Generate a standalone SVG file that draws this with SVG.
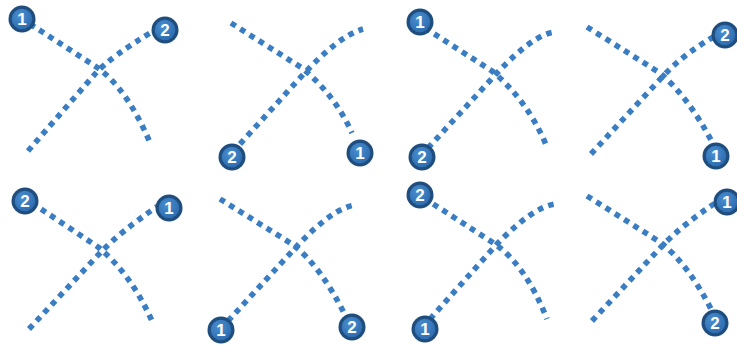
<svg xmlns="http://www.w3.org/2000/svg" width="737" height="346" viewBox="0 0 737 346">
<defs>
<radialGradient id="bg" cx="0.4" cy="0.35" r="0.7">
<stop offset="0" stop-color="#4A8FD0"/>
<stop offset="1" stop-color="#2B6AAE"/>
</radialGradient>
<style>
.ln{fill:none;stroke:#3A7DC2;stroke-width:5.6;stroke-dasharray:5.6 5.4;stroke-linecap:butt}
.ring{fill:#1F4E7E}
.inner{fill:url(#bg)}
.num{font-family:"Liberation Sans",Arial,sans-serif;font-weight:bold;font-size:17px;fill:#ffffff;text-anchor:middle}
</style>
</defs>
<rect width="737" height="346" fill="#ffffff"/>
<g id="connectors">
<path class="ln" d="M30 24 L98 68 Q128 90 151 145"/>
<path class="ln" d="M28 151 L95 74 Q110 57 155 30"/>
<path class="ln" d="M231 23 L302 68 Q335 95 352 133"/>
<path class="ln" d="M240 144 L299 79 Q338 36 363 29"/>
<path class="ln" d="M425 28 L492 71 Q528 101 547 147"/>
<path class="ln" d="M428 148 L497 73 Q534 34 555 32"/>
<path class="ln" d="M587 27 L660 73 Q688 97 711 140"/>
<path class="ln" d="M591 154 L665 74 Q685 53 720 33"/>
<path class="ln" d="M32 203 L98 247 Q131 274 152 321"/>
<path class="ln" d="M29 329 L100 253 Q120 232 158 206"/>
<path class="ln" d="M220 199 L292 244 Q321 266 346 317"/>
<path class="ln" d="M228 321 L297 246 Q333 208 355 205"/>
<path class="ln" d="M424 198 L495 244 Q526 266 547 319"/>
<path class="ln" d="M430 319 L497 244 Q533 207 555 204"/>
<path class="ln" d="M587 196 L660 242 Q689 265 712 311"/>
<path class="ln" d="M592 321 L662 246 Q683 224 720 200"/>
</g>
<g id="p1-b1"><circle class="ring" cx="22" cy="19" r="13.5"/><circle class="inner" cx="22" cy="19" r="10.3"/><text class="num" x="22" y="25">1</text></g>
<g id="p1-b2"><circle class="ring" cx="165" cy="30" r="13.5"/><circle class="inner" cx="165" cy="30" r="10.3"/><text class="num" x="165" y="36">2</text></g>
<g id="p2-b2"><circle class="ring" cx="232" cy="157" r="13.5"/><circle class="inner" cx="232" cy="157" r="10.3"/><text class="num" x="232" y="163">2</text></g>
<g id="p2-b1"><circle class="ring" cx="360" cy="153" r="13.5"/><circle class="inner" cx="360" cy="153" r="10.3"/><text class="num" x="360" y="159">1</text></g>
<g id="p3-b1"><circle class="ring" cx="420" cy="22" r="13.5"/><circle class="inner" cx="420" cy="22" r="10.3"/><text class="num" x="420" y="28">1</text></g>
<g id="p3-b2"><circle class="ring" cx="422" cy="157" r="13.5"/><circle class="inner" cx="422" cy="157" r="10.3"/><text class="num" x="422" y="163">2</text></g>
<g id="p4-b2"><circle class="ring" cx="725" cy="35" r="13.5"/><circle class="inner" cx="725" cy="35" r="10.3"/><text class="num" x="725" y="41">2</text></g>
<g id="p4-b1"><circle class="ring" cx="716" cy="156" r="13.5"/><circle class="inner" cx="716" cy="156" r="10.3"/><text class="num" x="716" y="162">1</text></g>
<g id="p5-b2"><circle class="ring" cx="25" cy="201" r="13.5"/><circle class="inner" cx="25" cy="201" r="10.3"/><text class="num" x="25" y="207">2</text></g>
<g id="p5-b1"><circle class="ring" cx="169" cy="208" r="13.5"/><circle class="inner" cx="169" cy="208" r="10.3"/><text class="num" x="169" y="214">1</text></g>
<g id="p6-b1"><circle class="ring" cx="221" cy="330" r="13.5"/><circle class="inner" cx="221" cy="330" r="10.3"/><text class="num" x="221" y="336">1</text></g>
<g id="p6-b2"><circle class="ring" cx="352" cy="327" r="13.5"/><circle class="inner" cx="352" cy="327" r="10.3"/><text class="num" x="352" y="333">2</text></g>
<g id="p7-b2"><circle class="ring" cx="420" cy="195" r="13.5"/><circle class="inner" cx="420" cy="195" r="10.3"/><text class="num" x="420" y="201">2</text></g>
<g id="p7-b1"><circle class="ring" cx="425" cy="329" r="13.5"/><circle class="inner" cx="425" cy="329" r="10.3"/><text class="num" x="425" y="335">1</text></g>
<g id="p8-b1"><circle class="ring" cx="727" cy="202" r="13.5"/><circle class="inner" cx="727" cy="202" r="10.3"/><text class="num" x="727" y="208">1</text></g>
<g id="p8-b2"><circle class="ring" cx="715" cy="323" r="13.5"/><circle class="inner" cx="715" cy="323" r="10.3"/><text class="num" x="715" y="329">2</text></g>
</svg>
